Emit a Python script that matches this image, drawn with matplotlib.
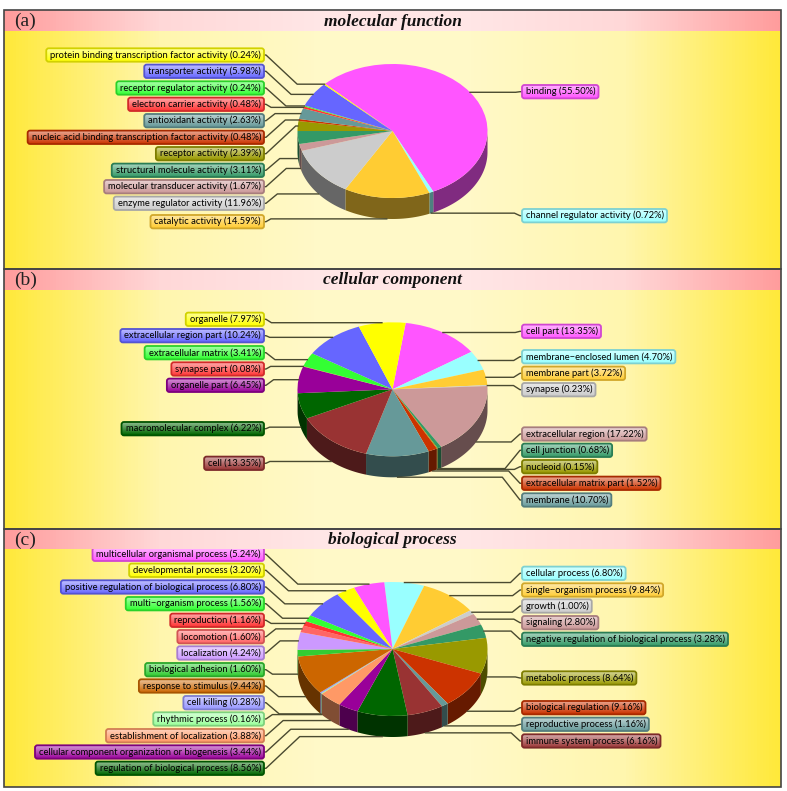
import numpy as np
import matplotlib
matplotlib.use("Agg")
import matplotlib.pyplot as plt
from matplotlib.colors import to_rgb, LinearSegmentedColormap
from matplotlib.patches import Wedge, FancyBboxPatch, Rectangle
from matplotlib.transforms import Affine2D

# ========== DATA ========== #
mf_names = ["binding", "channel regulator activity", "catalytic activity", "enzyme regulator activity",
            "molecular transducer activity", "structural molecule activity", "receptor activity",
            "nucleic acid binding transcription factor activity", "antioxidant activity",
            "electron carrier activity", "receptor regulator activity", "transporter activity",
            "protein binding transcription factor activity"]
mf_values = [55.50, 0.72, 14.59, 11.96, 1.67, 3.11, 2.39, 0.48, 2.63, 0.48, 0.24, 5.98, 0.24]
mf_colors = ["#FF55FF", "#99FFFF", "#FFCC33", "#CCCCCC", "#CC9999", "#339966", "#999900",
             "#CC3300", "#669999", "#FF3333", "#33FF33", "#6666FF", "#FFFF00"]

cc_names = ["cell part", "membrane\u2212enclosed lumen", "membrane part", "synapse", "extracellular region",
            "cell junction", "nucleoid", "extracellular matrix part", "membrane", "cell",
            "macromolecular complex", "organelle part", "synapse part", "extracellular matrix",
            "extracellular region part", "organelle"]
cc_values = [13.35, 4.70, 3.72, 0.23, 17.22, 0.68, 0.15, 1.52, 10.70, 13.35, 6.22, 6.45, 0.08, 3.41, 10.24, 7.97]
cc_colors = ["#FF55FF", "#99FFFF", "#FFCC33", "#CCCCCC", "#CC9999", "#339966", "#999900", "#CC3300",
             "#669999", "#993333", "#006600", "#990099", "#FF3333", "#33FF33", "#6666FF", "#FFFF00"]

bp_names = ["cellular process", "single\u2212organism process", "growth", "signaling",
            "negative regulation of biological process", "metabolic process", "biological regulation",
            "reproductive process", "immune system process", "regulation of biological process",
            "cellular component organization or biogenesis", "establishment of localization",
            "rhythmic process", "cell killing", "response to stimulus", "biological adhesion", "localization",
            "locomotion", "reproduction", "multi\u2212organism process", "positive regulation of biological process",
            "developmental process", "multicellular organismal process"]
bp_values = [6.80, 9.84, 1.00, 2.80, 3.28, 8.64, 9.16, 1.16, 6.16, 8.56, 3.44, 3.88, 0.16, 0.28, 9.44,
             1.60, 4.24, 1.60, 1.16, 1.56, 6.80, 3.20, 5.24]
bp_colors = ["#99FFFF", "#FFCC33", "#CCCCCC", "#CC9999", "#339966", "#999900", "#CC3300", "#669999",
             "#993333", "#006600", "#990099", "#FF9966", "#99FF99", "#9999FF", "#CC6600", "#33CC33",
             "#CC99FF", "#FF6666", "#FF3333", "#33FF33", "#6666FF", "#FFFF00", "#FF55FF"]

# ========== LAYOUT (pixels of the 787x791 picture) ========== #
W, H = 787, 791
RX, RY, DEPTH = 95, 67, 21
LEFT_EDGE, RIGHT_EDGE = 264, 522

mf_label_y = [91.7, 215.7, 221.7, 203.3, 186.7, 170.3, 153.7, 137.3, 120.7, 104.3, 88, 71.3, 55]
cc_label_y = [331.3, 356.7, 373.3, 389.7, 434, 450.3, 466.7, 483.3, 500, 463.3, 428.7, 385.3, 369,
              352.7, 335.7, 319.3]
bp_label_y = [573.3, 590, 606, 622.7, 639.3, 678, 707.7, 724.3, 741, 768.3, 752, 735.7, 719, 702.7, 686,
              669.7, 653, 636.7, 620.3, 603.7, 587, 570.3, 554.3]

panels = [
    dict(tag="(a)", title="molecular function", names=mf_names, values=mf_values, colors=mf_colors,
         label_y=mf_label_y, top=10, head=31, bottom=269, cy=131, start=135.2),
    dict(tag="(b)", title="cellular component", names=cc_names, values=cc_values, colors=cc_colors,
         label_y=cc_label_y, top=269, head=290, bottom=528.5, cy=389.3, start=82),
    dict(tag="(c)", title="biological process", names=bp_names, values=bp_values, colors=bp_colors,
         label_y=bp_label_y, top=528.5, head=549.5, bottom=787, cy=649, start=95),
]
CX = 392.5
PANEL_L, PANEL_R = 4, 781

plt.rcParams["font.family"] = ["Lato", "Liberation Sans", "DejaVu Sans"]
SERIF = ["Liberation Serif", "DejaVu Serif"]
LABEL_SIZE = 6.75

fig = plt.figure(figsize=(W / 100, H / 100), dpi=100)
ax = fig.add_axes([0, 0, 1, 1])
ax.set_axis_off()

bg_cmap = LinearSegmentedColormap.from_list("bg", ["#FFE93A", "#FFF6AE", "#FFF9C8", "#FFF9C8", "#FFF6AE", "#FFE93A"])
head_cmap = LinearSegmentedColormap.from_list("head", ["#FF9C9C", "#FFD8D8", "#FFE6E6", "#FFE6E6", "#FFD8D8", "#FF9C9C"])
ramp = np.linspace(0, 1, 256).reshape(1, -1)
renderer = fig.canvas.get_renderer()


def mix(color, other, t):
    return tuple((1 - t) * a + t * b for a, b in zip(to_rgb(color), to_rgb(other)))


def draw_label(text, y, side, color):
    if side == "left":
        t = ax.text(LEFT_EDGE - 3, y, text, ha="right", va="center", fontsize=LABEL_SIZE, color="black", zorder=7)
    else:
        t = ax.text(RIGHT_EDGE + 4, y, text, ha="left", va="center", fontsize=LABEL_SIZE, color="black", zorder=7)
    ext = t.get_window_extent(renderer)
    width = ext.width + 7
    x0 = LEFT_EDGE - width if side == "left" else RIGHT_EDGE
    h = 13.4
    box = FancyBboxPatch((x0, y - h / 2), width, h, boxstyle="round,pad=0,rounding_size=2.5",
                         facecolor="none", edgecolor=mix(color, "black", 0.18), linewidth=1.3, zorder=6)
    ax.add_patch(box)
    cm = LinearSegmentedColormap.from_list("lab", [mix(color, "white", 0.6), mix(color, "white", 0.3), color])
    im = ax.imshow(np.linspace(0, 1, 32).reshape(-1, 1), extent=(x0, x0 + width, y + h / 2, y - h / 2),
                   cmap=cm, aspect="auto", zorder=5, interpolation="bilinear")
    im.set_clip_path(box)


for p in panels:
    # background and header
    ax.imshow(ramp, extent=(PANEL_L, PANEL_R, p["bottom"], p["head"]), cmap=bg_cmap, aspect="auto", zorder=0)
    ax.imshow(ramp, extent=(PANEL_L, PANEL_R, p["head"], p["top"]), cmap=head_cmap, aspect="auto", zorder=8)
    ax.add_patch(Rectangle((PANEL_L, p["top"]), PANEL_R - PANEL_L, p["bottom"] - p["top"], fill=False,
                           edgecolor="#444444", linewidth=1.2, zorder=9))
    ax.text(14, (p["top"] + p["head"]) / 2 + 1, p["tag"], family=SERIF, fontsize=14, ha="left", va="center",
            color="#222222", zorder=10)
    ax.text(CX, (p["top"] + p["head"]) / 2 + 1, p["title"], family=SERIF, fontsize=12.5, weight="bold",
            style="italic", ha="center", va="center", color="#111111", zorder=10)

    values = np.array(p["values"])
    angles = p["start"] - np.concatenate([[0], np.cumsum(values)]) * 3.6
    to_px = Affine2D().scale(RX, -RY).translate(CX, p["cy"]) + ax.transData

    # side wall
    for i, color in enumerate(p["colors"]):
        a1, a0 = angles[i], angles[i + 1]
        # visible wall is the part between 180 and 360 degrees
        for k in (0, -360, 360):
            lo, hi = max(a0 + k, 180), min(a1 + k, 360)
            if hi > lo:
                th = np.radians(np.linspace(lo, hi, 40))
                xs = CX + RX * np.cos(th)
                ys = p["cy"] - RY * np.sin(th)
                ax.fill(np.r_[xs, xs[::-1]], np.r_[ys, ys[::-1] + DEPTH], color=mix(color, "black", 0.5),
                        linewidth=0, zorder=2)

    # top of the pie
    for i, color in enumerate(p["colors"]):
        ax.add_patch(Wedge((0, 0), 1, angles[i + 1], angles[i], facecolor=color, edgecolor="none",
                           transform=to_px, zorder=3))

    # labels and leaders
    for i, name in enumerate(p["names"]):
        mid = np.radians((angles[i] + angles[i + 1]) / 2)
        ax_x = CX + RX * np.cos(mid)
        ax_y = p["cy"] - RY * np.sin(mid)
        if np.sin(mid) < 0:
            ax_y += DEPTH
        y = p["label_y"][i]
        side = "left" if np.cos(mid) < 0 else "right"
        dy = abs(ax_y - y)
        if side == "left":
            ex = LEFT_EDGE + 4 + dy
            xs = [LEFT_EDGE, LEFT_EDGE + 2, ex, ax_x]
        else:
            ex = RIGHT_EDGE - 6 - 0.6 * dy
            xs = [RIGHT_EDGE, RIGHT_EDGE - 2, ex, ax_x]
        ax.plot(xs, [y, y, ax_y, ax_y], color="#4A4A30", linewidth=1.0, zorder=4, solid_joinstyle="round")
        draw_label(f"{name} ({p['values'][i]:.2f}%)", y, side, p["colors"][i])

ax.set_xlim(0, W)
ax.set_ylim(H, 0)
fig.savefig("out.png", dpi=100)
